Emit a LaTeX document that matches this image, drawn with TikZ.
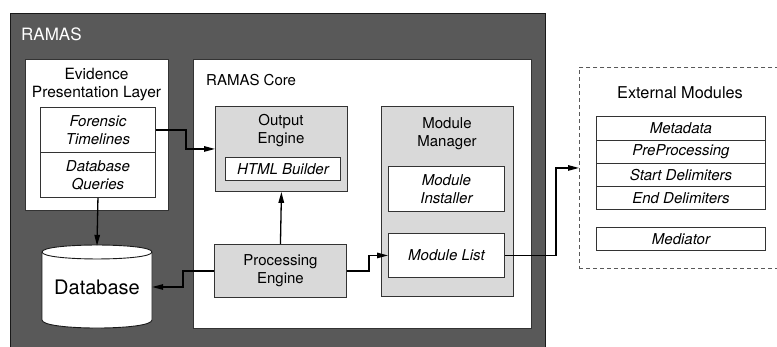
\documentclass[tikz,border=0pt]{standalone}
\usepackage{fontspec}
\setmainfont{TeX Gyre Heros}
\usetikzlibrary{arrows.meta}
\definecolor{darkfill}{HTML}{595959}
\definecolor{lightfill}{HTML}{D9D9D9}
\begin{document}
\begin{tikzpicture}[x=1pt,y=-1pt,
  every node/.style={font=\fontsize{15}{18}\selectfont, inner sep=0pt},
  box/.style={draw=black!80, line width=0.9pt, anchor=north west},
  itbox/.style={box, fill=white, align=center, font=\fontsize{15}{18}\selectfont\itshape},
  gbox/.style={box, fill=lightfill, align=center},
  conn/.style={draw=black, line width=1.3pt, -{Triangle[length=11pt,width=5.5pt]}}]
\useasboundingbox (0,0) rectangle (777,347);
\clip (0,0) rectangle (777,347);
% outer RAMAS
\node[box, fill=darkfill, draw=black!90, line width=1.2pt, minimum width=535pt, minimum height=360pt] (ramas) at (10,13) {};
\node[anchor=west, text=white, font=\fontsize{17}{20}\selectfont] (ramaslbl) at (21,34) {RAMAS};
% evidence layer
\node[box, fill=white, minimum width=143pt, minimum height=151pt] (evid) at (25,59) {};
\node[align=center, font=\fontsize{15.5}{18}\selectfont] (evidlbl) at (96.5,85) {Evidence\\Presentation Layer};
\node[itbox, minimum width=115pt, minimum height=45pt] (forensic) at (40,107) {Forensic\\Timelines};
\node[itbox, minimum width=115pt, minimum height=45pt] (dbq) at (40,152) {Database\\Queries};
% database cylinder
\draw[fill=white, draw=black!90, line width=0.9pt]
  (42,252) -- (42,320) .. controls (42,330.7) and (152,330.7) .. (152,320)
  -- (152,252) .. controls (152,242.7) and (42,242.7) .. (42,252) -- cycle;
\draw[draw=black!90, line width=0.9pt] (42,252) .. controls (42,261.3) and (152,261.3) .. (152,252);
\node[minimum width=110pt, minimum height=82pt, font=\fontsize{20}{24}\selectfont] (db) at (97,287) {Database};
% core
\node[box, fill=white, minimum width=338pt, minimum height=269pt] (core) at (193,59) {};
\node[anchor=west] (corelbl) at (206,80) {RAMAS Core};
\node[gbox, minimum width=132pt, minimum height=85pt] (output) at (215,106) {};
\node[align=center] (outputlbl) at (281,131) {Output\\Engine};
\node[itbox, minimum width=115pt, minimum height=23pt] (html) at (225,157) {HTML Builder};
\node[gbox, minimum width=132pt, minimum height=53pt] (proc) at (214,244) {Processing\\Engine};
\node[gbox, minimum width=132pt, minimum height=190pt] (mm) at (381,106) {};
\node[align=center] (mmlbl) at (447,134) {Module\\Manager};
\node[itbox, minimum width=116pt, minimum height=45pt] (inst) at (388,166) {Module\\Installer};
\node[itbox, minimum width=116pt, minimum height=44pt] (mlist) at (388,233) {Module List};
% external modules
\node[box, draw=black!65, dash pattern=on 4pt off 3pt, line width=0.9pt, minimum width=220pt, minimum height=201pt] (ext) at (579,67) {};
\node[font=\fontsize{16.3}{19}\selectfont] (extlbl) at (680,93) {External Modules};
\node[itbox, minimum width=169pt, minimum height=24pt] (md) at (596,116) {Metadata};
\node[itbox, minimum width=169pt, minimum height=23pt] (pre) at (596,140) {PreProcessing};
\node[itbox, minimum width=169pt, minimum height=23pt] (start) at (596,163) {Start Delimiters};
\node[itbox, minimum width=169pt, minimum height=23pt] (endd) at (596,186) {End Delimiters};
\node[itbox, minimum width=169pt, minimum height=23pt] (med) at (596,227) {Mediator};
% connectors
\draw[conn] (forensic.east) -- ++(30,0) |- (output.west);
\draw[conn] (dbq.south) -- (db.north);
\draw[conn] (proc.west) -- ++(-31,0) |- (db.east);
\draw[conn] (proc.north) -- (output.south);
\draw[conn] (proc.east) -- ++(22,0) |- (mlist.west);
\draw[conn] (mlist.east) -- ++(51,0) |- (ext.west);
\end{tikzpicture}
\end{document}
